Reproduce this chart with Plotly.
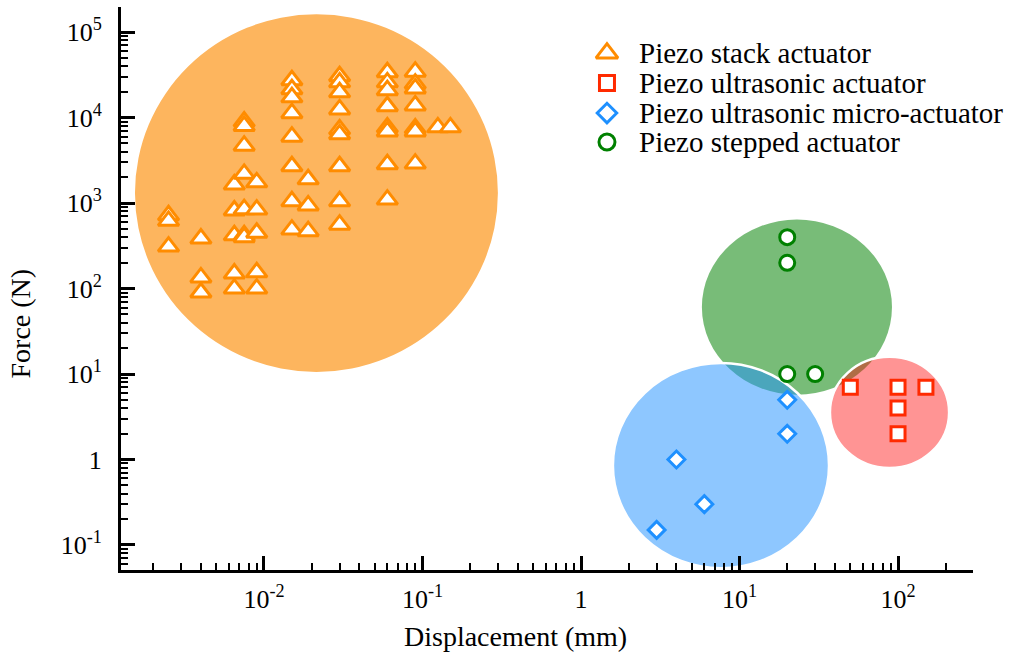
import plotly.graph_objects as go

# ---------------- data ----------------
series_names = ["Piezo stack actuator", "Piezo ultrasonic actuator",
                "Piezo ultrasonic micro-actuator", "Piezo stepped actuator"]

stack_x = ([0.0025] * 3 + [0.004] * 3 + [0.0065] * 5 + [0.0075] * 7 + [0.009] * 5 +
           [0.015] * 8 + [0.019] * 3 + [0.03] * 9 + [0.06] * 8 + [0.09] * 7 +
           [0.125] + [0.15])
stack_y = ([720, 620, 310] +
           [385, 135, 90] +
           [1650, 820, 420, 150, 100] +
           [9000, 8000, 4700, 2200, 850, 420, 400] +
           [1750, 840, 450, 155, 100] +
           [27400, 21500, 17300, 11300, 6000, 2700, 1050, 490] +
           [1900, 940, 470] +
           [30500, 25900, 19800, 12500, 7300, 6400, 2700, 1050, 560] +
           [34000, 25900, 21000, 13600, 7700, 6900, 2850, 1100] +
           [34500, 25000, 22000, 13900, 7500, 6900, 2900] +
           [7700] + [7700])

ultra_x = [50, 100, 150, 100, 100]
ultra_y = [7, 7, 7, 4, 2]

micro_x = [20, 20, 4, 6, 3]
micro_y = [5, 2, 1, 0.3, 0.15]

stepped_x = [20, 20, 20, 30]
stepped_y = [400, 200, 10, 10]

# region envelopes (data-space bounding boxes of the shaded ellipses)
region_x0 = [1.535e-3, 5.79, 1.59, 37.2]
region_x1 = [0.299, 91.6, 36.7, 210]
region_y0 = [10.6, 5.73, 0.0535, 0.794]
region_y1 = [162500, 643, 13.5, 15.9]

x_tickvals = [1e-2, 1e-1, 1, 1e1, 1e2]
x_ticktext = ["10<sup>-2</sup>", "10<sup>-1</sup>", "1", "10<sup>1</sup>", "10<sup>2</sup>"]
y_tickvals = [1e-1, 1, 1e1, 1e2, 1e3, 1e4, 1e5]
y_ticktext = ["10<sup>-1</sup>", "1", "10<sup>1</sup>", "10<sup>2</sup>",
              "10<sup>3</sup>", "10<sup>4</sup>", "10<sup>5</sup>"]

# ---------------- styles ----------------
FONT = "Liberation Serif"
colors = ["#FF8C00", "#FF2A00", "#1E90FF", "#008000"]
symbols = ["triangle-up", "square", "diamond", "circle"]
msizes = [18, 14, 13, 15]
region_fill = ["rgba(253,181,94,1)", "rgba(0,128,0,0.53)",
               "rgba(30,144,255,0.5)", "rgba(255,0,0,0.42)"]
region_line = [0, 0, 2.5, 2.5]

fig = go.Figure()

all_x = [stack_x, ultra_x, micro_x, stepped_x]
all_y = [stack_y, ultra_y, micro_y, stepped_y]
for i in range(4):
    fig.add_trace(go.Scatter(
        x=all_x[i], y=all_y[i], mode="markers", name=series_names[i],
        showlegend=False,
        marker=dict(symbol=symbols[i], size=msizes[i], color="white",
                    line=dict(color=colors[i], width=3))))

for i in range(4):
    fig.add_shape(type="circle", xref="x", yref="y", layer="below",
                  x0=region_x0[i], x1=region_x1[i], y0=region_y0[i], y1=region_y1[i],
                  fillcolor=region_fill[i],
                  line=dict(color="white", width=region_line[i]))

# custom legend (overlay axis in paper-like units)
leg_y = [0.918, 0.865, 0.8117, 0.7602]
leg_sizes = [19, 15, 15, 16]
for i in range(4):
    fig.add_trace(go.Scatter(
        x=[0.5704], y=[leg_y[i]], mode="markers", xaxis="x2", yaxis="y2",
        showlegend=False, hoverinfo="skip",
        marker=dict(symbol=symbols[i], size=leg_sizes[i], color="white",
                    line=dict(color=colors[i], width=3))))
    fig.add_annotation(x=0.6056, y=leg_y[i], xref="paper", yref="paper",
                       text=series_names[i], showarrow=False,
                       xanchor="left", yanchor="middle",
                       font=dict(family=FONT, size=29, color="black"))

# axis titles
fig.add_annotation(x=0.4636, y=-0.119, xref="paper", yref="paper",
                   text="Displacement (mm)", showarrow=False,
                   xanchor="center", yanchor="middle",
                   font=dict(family=FONT, size=28, color="black"))
fig.add_annotation(x=-0.118, y=0.4387, xref="paper", yref="paper",
                   text="Force (N)", showarrow=False, textangle=-90,
                   xanchor="center", yanchor="middle",
                   font=dict(family=FONT, size=28, color="black"))

x_minor = [m * 10.0 ** k for k in range(-3, 3) for m in range(2, 10)]
y_minor = [m * 10.0 ** k for k in range(-2, 5) for m in range(2, 10)]

axis_common = dict(type="log", showgrid=False, zeroline=False,
                   showline=True, linecolor="black", linewidth=3,
                   ticks="inside", ticklen=14, tickwidth=3, tickcolor="black",
                   tickmode="array", automargin=False,
                   tickfont=dict(family=FONT, size=26, color="black"))

fig.update_layout(
    width=1019, height=658, autosize=False,
    margin=dict(l=121, r=46, t=7, b=88),
    paper_bgcolor="white", plot_bgcolor="white",
    showlegend=False,
    xaxis=dict(range=[-2.902, 2.473], tickvals=x_tickvals, ticktext=x_ticktext,
               ticklabelstandoff=4,
               minor=dict(tickmode="array", tickvals=x_minor, ticks="inside",
                          ticklen=7, tickwidth=2, tickcolor="black"),
               **axis_common),
    yaxis=dict(range=[-1.293, 5.295], tickvals=y_tickvals, ticktext=y_ticktext,
               ticklabelstandoff=11,
               minor=dict(tickmode="array", tickvals=y_minor, ticks="inside",
                          ticklen=7, tickwidth=2, tickcolor="black"),
               **axis_common),
    xaxis2=dict(overlaying="x", anchor="y2", range=[0, 1], visible=False,
                fixedrange=True),
    yaxis2=dict(overlaying="y", anchor="x2", range=[0, 1], visible=False,
                fixedrange=True),
)

fig.write_html("out.html", config={"displayModeBar": False},
               post_script="document.body.style.margin='0';document.body.style.overflow='hidden';")
